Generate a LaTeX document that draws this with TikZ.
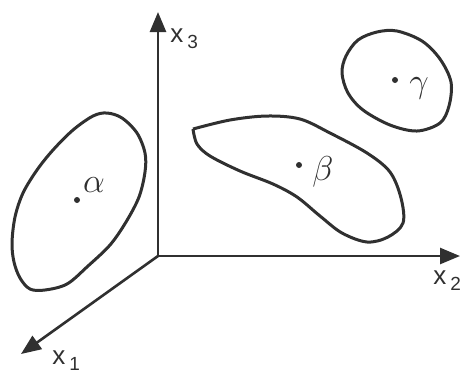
\documentclass[tikz,border=0pt]{standalone}
\usepackage{fontspec}
\setsansfont{Liberation Sans}
\definecolor{inkGray}{HTML}{303030}
\usepackage{tikz}
\usetikzlibrary{arrows.meta}

\newcommand{\axlabel}[1]{{\sffamily\fontsize{13}{15}\selectfont x\hspace{2pt}\raisebox{-3pt}{\fontsize{9.5}{11}\selectfont #1}}}

\begin{document}
\begin{tikzpicture}[x=0.5pt, y=-0.5pt,
    axisline/.style={draw=inkGray, line width=1.3pt, -{Triangle[length=10pt, width=8pt]}},
    blob/.style={draw=inkGray, line width=1.5pt, line join=round},
    centre/.style={circle, fill=inkGray, inner sep=0pt, minimum size=3pt},
    axlab/.style={inner sep=0pt, anchor=base west, text=inkGray},
    greek/.style={inner sep=0pt, text=inkGray, font=\fontsize{17}{20}\selectfont}]
  \useasboundingbox (0,0) rectangle (461,372);

  \coordinate (o) at (158,256);
  \coordinate (x3tip) at (158,12);
  \coordinate (x2tip) at (460,256);
  \coordinate (x1tip) at (21,354);
  \draw[axisline] (o) -- (x3tip);
  \draw[axisline] (o) -- (x2tip);
  \draw[axisline] (o) -- (x1tip);
  \node[axlab] (labx3) at (170,42) {\axlabel{3}};
  \node[axlab] (labx2) at (433,284) {\axlabel{2}};
  \node[axlab] (labx1) at (52,364) {\axlabel{1}};

  \draw[blob] plot[smooth cycle, tension=0.55] coordinates {
    (107,113) (122,118) (137,133) (145,153) (145,172) (139,197) (126,222)
    (110,245) (88,266) (67,284) (45,290) (30,289) (20,278) (14,262)
    (12,243) (15,217) (23,193) (37,170) (53,150) (73,130) (93,116)};
  \node[centre] (ctra) at (77,200) {};
  \node[greek] (laba) at (94,185) {$\alpha$};

  \draw[blob] plot[smooth, tension=0.55] coordinates {
    (193,129) (230,120) (267,116) (300,119) (330,133) (367,153) (390,172)
    (401,198) (403,223) (388,237) (367,242) (342,233) (320,216) (297,197)
    (273,184) (240,171) (210,156) (197,144) (193,129)};
  \node[centre] (ctrb) at (299,165) {};
  \node[greek] (labb) at (323,172) {$\beta$};

  \draw[blob] plot[smooth cycle, tension=0.55] coordinates {
    (377,32) (397,31) (422,41) (440,59) (451,82) (449,106) (440,123)
    (417,131) (390,125) (363,110) (348,93) (342,73) (346,56) (358,40)};
  \node[centre] (ctrc) at (395,80) {};
  \node[greek] (labc) at (419,88) {$\gamma$};
\end{tikzpicture}
\end{document}
